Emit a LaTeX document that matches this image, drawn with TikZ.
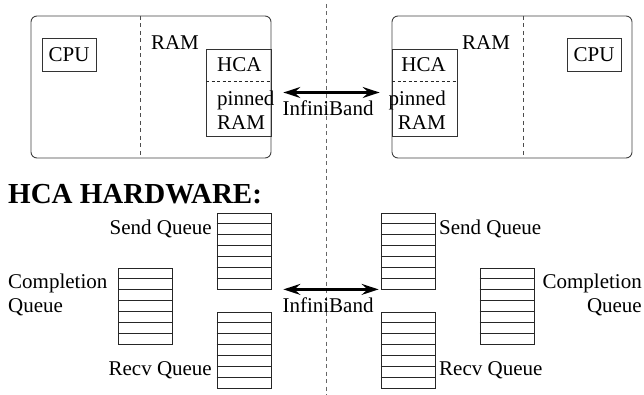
\documentclass[tikz,border=0pt]{standalone}
\usepackage{fontspec}
\setmainfont{Liberation Serif}
\usetikzlibrary{arrows.meta,calc}
\tikzset{
  txt/.style={inner sep=0pt,font=\fontsize{21}{24}\selectfont},
  bigbox/.style={draw=black!75,line width=0.9pt,rounded corners=6pt},
  plainbox/.style={draw=black!80,line width=0.8pt},
  divider/.style={draw=black!70,line width=0.8pt,dash pattern=on 4pt off 3.5pt},
  qbox/.style={draw=black!85,line width=0.8pt,minimum width=54pt,minimum height=76pt,inner sep=0pt},
  ibtip/.style={Stealth[length=17pt,width=11pt,inset=6pt]},
  ib/.style={{Stealth[length=17pt,width=11pt,inset=6pt]}-{Stealth[length=17pt,width=11pt,inset=6pt]},line width=2.2pt}
}
\newcommand{\qlines}[1]{%
  \foreach \i in {1,...,6}{\draw[black!85,line width=0.8pt] ($(#1.north west)!\i/7!(#1.south west)$) -- ($(#1.north east)!\i/7!(#1.south east)$);}}
\begin{document}
\begin{tikzpicture}[x=1pt,y=-1pt]
\useasboundingbox (0,0) rectangle (644,395);
% centre divider
\coordinate (ctop) at (326,4);
\coordinate (cbot) at (326,395);
\draw[divider,draw=black!60] (ctop) -- (cbot);
% left host
\draw[bigbox] (31,16) rectangle (271,158);
\coordinate (dlt) at (140,16); \coordinate (dlb) at (140,158);
\draw[divider] (dlt) -- (dlb);
\node[plainbox,minimum width=54pt,minimum height=33pt,inner sep=0pt] (cpuL) at (69,54.5) {};
\node[txt] at (cpuL.center) {CPU};
\node[txt] (ramL) at (175,43) {RAM};
\node[plainbox,minimum width=65pt,minimum height=87pt,inner sep=0pt] (hcaL) at (238.5,92.5) {};
\coordinate (hlA) at (206,81); \coordinate (hlB) at (271,81);
\draw[black!85,line width=0.8pt,dash pattern=on 3pt off 2.5pt] (hlA) -- (hlB);
\node[txt,anchor=west] (hcaLt) at (217,65) {HCA};
\node[txt,anchor=west,align=left] (pinL) at (217,110) {pinned\\RAM};
% right host
\draw[bigbox] (392,16) rectangle (632,158);
\coordinate (drt) at (523,16); \coordinate (drb) at (523,158);
\draw[divider] (drt) -- (drb);
\node[plainbox,minimum width=54pt,minimum height=33pt,inner sep=0pt] (cpuR) at (594,54.5) {};
\node[txt] at (cpuR.center) {CPU};
\node[txt] (ramR) at (486,43) {RAM};
\node[plainbox,minimum width=65pt,minimum height=87pt,inner sep=0pt] (hcaR) at (424.5,92.5) {};
\coordinate (hrA) at (392,81); \coordinate (hrB) at (457,81);
\draw[black!85,line width=0.8pt,dash pattern=on 3pt off 2.5pt] (hrA) -- (hrB);
\node[txt,anchor=east] (hcaRt) at (446,65) {HCA};
\node[txt,anchor=east,align=right] (pinR) at (446,110) {pinned\\RAM};
% top link
\draw[ib,shorten <=12pt,shorten >=12pt] (hcaL.east) -- (hcaR.west);
\node[txt] (ibTop) at (328,108) {InfiniBand};
% HCA hardware
\node[inner sep=0pt,anchor=west,font=\fontsize{29}{32}\selectfont\bfseries] (hw) at (8,194) {HCA HARDWARE:};
% left queues
\node[qbox] (sqL) at (244,251) {}; \qlines{sqL}
\node[qbox] (cqL) at (145.5,306) {}; \qlines{cqL}
\node[qbox] (rqL) at (244,350) {}; \qlines{rqL}
\node[txt,anchor=east] (sqLt) at (212,229) {Send Queue};
\node[txt,anchor=east] (rqLt) at (212,370) {Recv Queue};
\node[txt,anchor=west,align=left] (cqLt) at (8,295) {Completion\\Queue};
% right queues
\node[qbox] (sqR) at (408,251) {}; \qlines{sqR}
\node[qbox] (cqR) at (507,306) {}; \qlines{cqR}
\node[qbox] (rqR) at (408,350) {}; \qlines{rqR}
\node[txt,anchor=west] (sqRt) at (439,229) {Send Queue};
\node[txt,anchor=west] (rqRt) at (439,370) {Recv Queue};
\node[txt,anchor=east,align=right] (cqRt) at (642,295) {Completion\\Queue};
% bottom link
\draw[ib,shorten <=12pt,shorten >=2pt] (sqL.south east) -- (sqR.south west);
\node[txt] (ibBot) at (328,305) {InfiniBand};
\end{tikzpicture}
\end{document}
